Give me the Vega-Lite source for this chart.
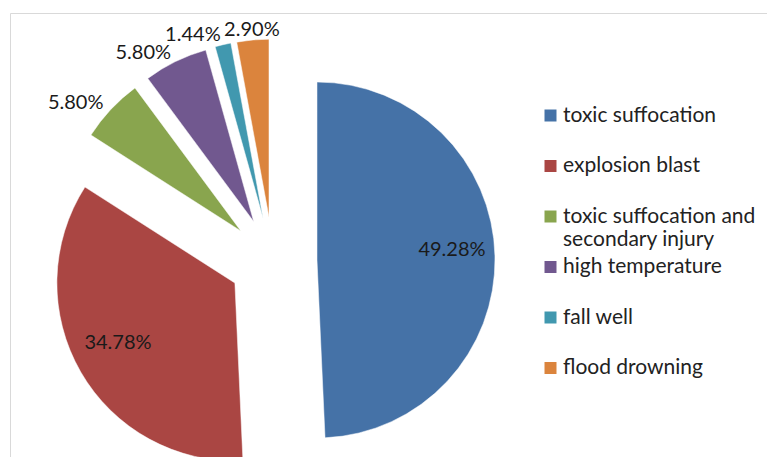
{
  "$schema": "https://vega.github.io/schema/vega-lite/v6.json",
  "width": 757,
  "height": 444,
  "autosize": "none",
  "padding": {"left": 10, "top": 13, "right": 0, "bottom": 0},
  "background": "white",
  "config": {"view": {"stroke": "#d9d9d9", "strokeWidth": 1}, "font": "Lato"},
  "data": {"values": [
    {"cause": "toxic suffocation", "pct": 49.28},
    {"cause": "explosion blast", "pct": 34.78},
    {"cause": "toxic suffocation and secondary injury", "pct": 5.80},
    {"cause": "high temperature", "pct": 5.80},
    {"cause": "fall well", "pct": 1.44},
    {"cause": "flood drowning", "pct": 2.90}
  ]},
  "transform": [
    {"stack": "pct", "groupby": [], "as": ["start", "end"]},
    {"calculate": "(datum.start + datum.end) / 100 * PI", "as": "mid"},
    {"calculate": "44 * sin(datum.mid)", "as": "ex"},
    {"calculate": "44 * cos(datum.mid)", "as": "ey"},
    {"calculate": "datum.pct > 10 ? 135 : 188", "as": "lr"},
    {"calculate": "datum.ex + datum.lr * sin(datum.mid)", "as": "lx"},
    {"calculate": "datum.ey + datum.lr * cos(datum.mid)", "as": "ly"},
    {"calculate": "format(datum.pct, '.2f') + '%'", "as": "label"}
  ],
  "encoding": {
    "x": {"field": "ex", "type": "quantitative", "scale": {"domain": [-263, 494], "zero": false, "nice": false}, "axis": null},
    "y": {"field": "ey", "type": "quantitative", "scale": {"domain": [-196, 248], "zero": false, "nice": false}, "axis": null}
  },
  "layer": [
    {
      "mark": {"type": "arc", "radius": 178, "stroke": "white", "strokeWidth": 0.5},
      "encoding": {
        "theta": {"field": "start", "type": "quantitative", "scale": {"domain": [0, 100], "range": [0, 6.283185307179586], "zero": false, "nice": false}},
        "theta2": {"field": "end"},
        "color": {
          "field": "cause", "type": "nominal", "sort": null,
          "scale": {
            "domain": ["toxic suffocation", "explosion blast", "toxic suffocation and secondary injury", "high temperature", "fall well", "flood drowning"],
            "range": ["#4572A7", "#AA4643", "#89A54E", "#71588F", "#4198AF", "#DB843D"]
          },
          "legend": {
            "orient": "none", "legendX": 530, "legendY": 92, "title": null,
            "symbolType": "square", "symbolSize": 144, "symbolStrokeWidth": 0,
            "labelFont": "Lato", "labelFontSize": 21, "labelColor": "#222222",
            "labelOffset": 2, "rowPadding": 5.5, "labelLimit": 300, "padding": 0,
            "labelExpr": "datum.label == 'toxic suffocation and secondary injury' ? ['toxic suffocation and', 'secondary injury'] : [datum.label, '']"
          }
        }
      }
    },
    {
      "transform": [{"filter": "datum.pct > 10"}],
      "mark": {"type": "text", "fontSize": 20, "font": "Lato", "color": "#1a1a1a", "align": "center", "baseline": "middle", "dy": -7},
      "encoding": {
        "x": {"field": "lx", "type": "quantitative"},
        "y": {"field": "ly", "type": "quantitative"},
        "text": {"field": "label"}
      }
    },
    {
      "transform": [{"filter": "datum.pct <= 10 && datum.mid > 6.1"}],
      "mark": {"type": "text", "fontSize": 20, "font": "Lato", "color": "#1a1a1a", "align": "center", "baseline": "middle"},
      "encoding": {
        "x": {"field": "lx", "type": "quantitative"},
        "y": {"field": "ly", "type": "quantitative"},
        "text": {"field": "label"}
      }
    },
    {
      "transform": [{"filter": "datum.pct <= 10 && datum.mid <= 6.1"}],
      "mark": {"type": "text", "fontSize": 20, "font": "Lato", "color": "#1a1a1a", "align": "right", "baseline": "middle"},
      "encoding": {
        "x": {"field": "lx", "type": "quantitative"},
        "y": {"field": "ly", "type": "quantitative"},
        "text": {"field": "label"}
      }
    }
  ]
}
